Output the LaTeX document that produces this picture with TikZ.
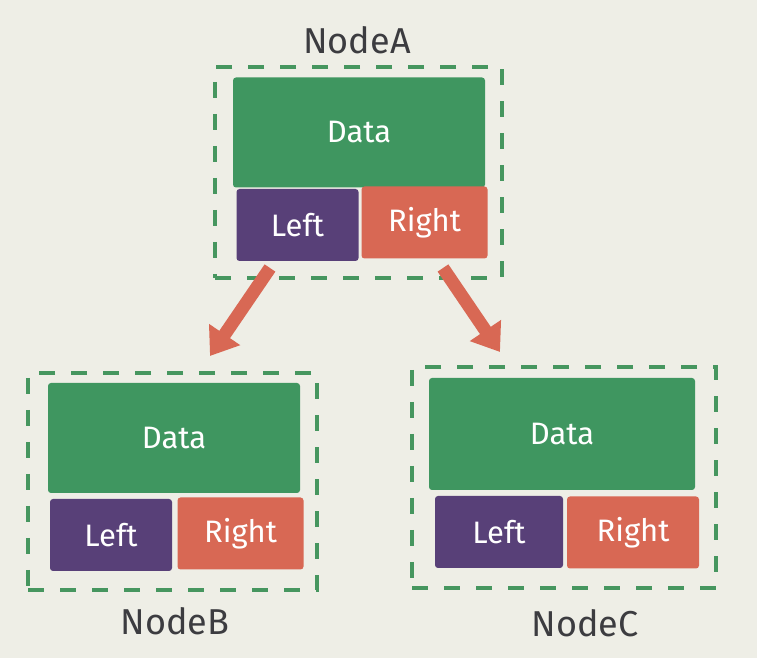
\documentclass[tikz,border=0pt]{standalone}
\usepackage{fontspec}
\setmainfont{Fira Sans}
\usetikzlibrary{arrows.meta}
\definecolor{datagreen}{RGB}{63,150,96}
\definecolor{leftpurple}{RGB}{88,64,120}
\definecolor{rightred}{RGB}{216,104,84}
\definecolor{paper}{RGB}{238,238,230}
\definecolor{dashgreen}{RGB}{70,150,95}
\definecolor{labelgray}{RGB}{60,60,64}
\tikzset{
  cell/.style={rounded corners=1.5pt, inner sep=0pt, text=white, font=\fontsize{15.5}{18}\selectfont},
  datacell/.style={cell, fill=datagreen, minimum width=126pt, minimum height=55pt},
  leftcell/.style={cell, fill=leftpurple, minimum width=61pt, minimum height=36pt},
  rightcell/.style={cell, fill=rightred, minimum width=63pt, minimum height=36pt},
  frame/.style={draw=dashgreen, line width=2pt, dash pattern=on 8pt off 8pt, inner sep=0pt},
  caption/.style={text=labelgray, font=\fontsize{18}{21}\selectfont},
  link/.style={draw=rightred, line width=6.5pt, -{Triangle[width=18pt,length=13pt]}}
}
\begin{document}
\begin{tikzpicture}[x=0.5pt,y=-0.5pt]
\fill [paper] (0,0) rectangle (757,658);
\useasboundingbox (0,0) rectangle (757,658);
%
\node [frame, minimum width=143.5pt, minimum height=105.5pt] (fA) at (358.5,172.5) {};
\node [datacell] (dA) at (359,132.5) {Data};
\node [leftcell] (lA) at (297.5,225) {Left};
\node [rightcell] (rA) at (424.5,222.5) {Right};
\node [caption] (nA) at (357,40) {NodeA};
%
\node [frame, minimum width=144.5pt, minimum height=108.5pt] (fB) at (172.5,481.5) {};
\node [datacell] (dB) at (174,438) {Data};
\node [leftcell] (lB) at (111,535) {Left};
\node [rightcell] (rB) at (240.5,533.5) {Right};
\node [caption] (nB) at (175,621) {NodeB};
%
\node [frame, minimum width=152pt, minimum height=110.5pt] (fC) at (564,477.5) {};
\node [datacell, minimum width=133pt, minimum height=56pt] (dC) at (562,434) {Data};
\node [leftcell, minimum width=64pt] (lC) at (499,532) {Left};
\node [rightcell, minimum width=66pt] (rC) at (633,532.5) {Right};
\node [caption] (nC) at (585,623) {NodeC};
%
\coordinate (s1) at (270,268);
\coordinate (e1) at (210,356);
\coordinate (s2) at (443,268);
\coordinate (e2) at (500,352);
\draw [link] (s1) -- (e1);
\draw [link] (s2) -- (e2);
\end{tikzpicture}
\end{document}
